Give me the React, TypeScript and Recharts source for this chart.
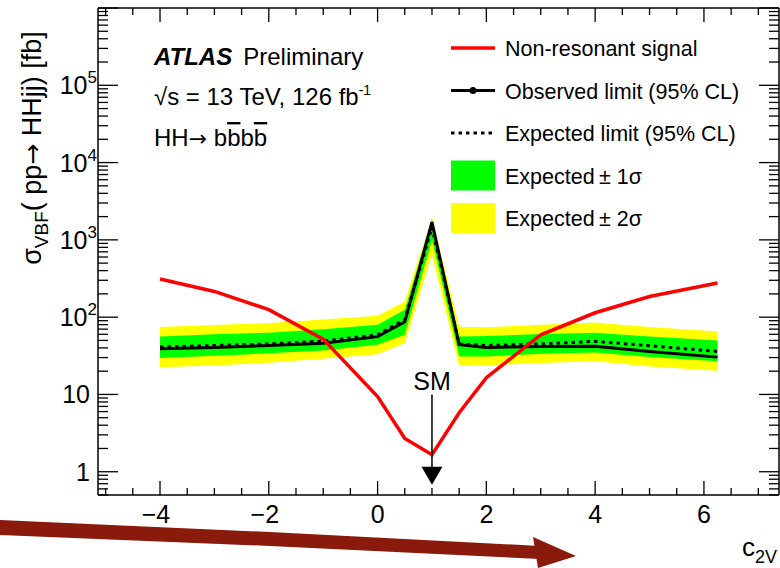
import React from 'react';
import { ComposedChart, Line, Area, XAxis, YAxis, ReferenceLine } from 'recharts';

// ---- data ----
const c2V = [-4, -3, -2, -1, 0, 0.5, 1, 1.5, 2, 3, 4, 5, 6.25];
const signal = [311, 215, 125, 52, 9.4, 2.7, 1.66, 5.8, 16.5, 59, 114, 185, 277];
const observed = [39, 40.6, 43, 46, 56, 87, 1700, 44, 40.5, 41.7, 42, 36, 30.4];
const expected = [41, 43, 45, 49, 59, 93, 1450, 45, 43, 45, 48.6, 42.7, 36];
const oneSigmaLow = [29.6, 31.7, 34, 37, 44, 59, 1000, 31, 31, 33.6, 35, 30.5, 26.8];
const oneSigmaHigh = [56, 60, 63, 70, 80, 125, 1800, 56, 57, 60.5, 63, 56, 50];
const twoSigmaLow = [22.4, 23.7, 25.7, 29, 33, 46, 650, 23.5, 23.8, 25.5, 26.8, 23, 20.3];
const twoSigmaHigh = [74.5, 79, 84, 93, 104, 160, 1950, 75, 74, 80, 85, 74.5, 65];

const xDomain = [-5.14, 7.38];
const yDomain = [0.5, 1e6];
const xTicks = [-5, -4.5, -4, -3.5, -3, -2.5, -2, -1.5, -1, -0.5, 0, 0.5, 1, 1.5, 2, 2.5, 3, 3.5, 4, 4.5, 5, 5.5, 6, 6.5, 7];
const xTickLabels = [-4, -2, 0, 2, 4, 6];
const yDecades = [1, 10, 100, 1000, 10000, 100000, 1000000];
const yMultipliers = [1, 2, 3, 4, 5, 6, 7, 8, 9];
const yMinorBelowOne = [0.5, 0.6, 0.7, 0.8, 0.9];
const yTicks = [
  ...yMinorBelowOne,
  ...yDecades.flatMap((d) => (d === 1000000 ? [d] : yMultipliers.map((m) => m * d))),
];
const smPosition = { c2V: 1, top: 10, tip: 0.68, label: 'SM' };

const legendItems = [
  { kind: 'red', label: 'Non-resonant signal' },
  { kind: 'obs', label: 'Observed limit (95% CL)' },
  { kind: 'exp', label: 'Expected limit (95% CL)' },
  { kind: 'green', label: 'Expected\u2009\u00b1 1\u03c3' },
  { kind: 'yellow', label: 'Expected\u2009\u00b1 2\u03c3' },
];

const data = c2V.map((c, i) => ({
  c,
  sig: signal[i],
  obs: observed[i],
  exp: expected[i],
  band1: [oneSigmaLow[i], oneSigmaHigh[i]],
  band2: [twoSigmaLow[i], twoSigmaHigh[i]],
}));

const FONT = '"Liberation Sans", Arial, Helvetica, sans-serif';
const ARROW_FONT = '"DejaVu Sans", sans-serif';

const isDecade = (v: number) => Math.abs(Math.log10(v) - Math.round(Math.log10(v))) < 1e-6;
const isXMajor = (v: number) => Math.abs(v / 2 - Math.round(v / 2)) < 1e-6;

const LeftTick = (props: any) => {
  const { x, y, payload } = props;
  const v = payload.value;
  const ax = x + 10;
  const major = isDecade(v);
  const e = Math.round(Math.log10(v));
  let label: React.ReactNode = null;
  if (major && e === 0) label = <text x={ax - 8} y={y + 9} textAnchor="end" fontSize={25} fontFamily={FONT} fill="#000">1</text>;
  else if (major && e === 1) label = <text x={ax - 8} y={y + 9} textAnchor="end" fontSize={25} fontFamily={FONT} fill="#000">10</text>;
  else if (major && e >= 2 && e <= 5)
    label = (
      <text x={ax - 1} y={y + 9} textAnchor="end" fontSize={25} fontFamily={FONT} fill="#000">
        10<tspan fontSize={17} dy={-11}>{e}</tspan>
      </text>
    );
  return (
    <g>
      <line x1={ax} x2={ax + (major ? 20 : 10)} y1={y} y2={y} stroke="#000" strokeWidth={1.3} />
      {label}
    </g>
  );
};

const RightTick = (props: any) => {
  const { x, y, payload } = props;
  const major = isDecade(payload.value);
  return <line x1={x - (major ? 20 : 10)} x2={x} y1={y} y2={y} stroke="#000" strokeWidth={1.3} />;
};

const BottomTick = (props: any) => {
  const { x, y, payload } = props;
  const v = payload.value;
  const ay = y;
  const major = isXMajor(v);
  const showLabel = xTickLabels.includes(v);
  const text = v < 0 ? '\u2212' + Math.abs(v) : String(v);
  return (
    <g>
      <line x1={x} x2={x} y1={ay} y2={ay - (major ? 14 : 7)} stroke="#000" strokeWidth={1.3} />
      {showLabel && (
        <text x={x + (v < 0 ? -4 : 0)} y={ay + 28} textAnchor="middle" fontSize={25} fontFamily={FONT} fill="#000">
          {text}
        </text>
      )}
    </g>
  );
};

const TopTick = (props: any) => {
  const { x, y, payload } = props;
  const major = isXMajor(payload.value);
  return <line x1={x} x2={x} y1={y} y2={y + (major ? 14 : 7)} stroke="#000" strokeWidth={1.3} />;
};

const SMArrow = (props: any) => {
  const { x1, y1, x2, y2 } = props;
  return (
    <g>
      <text x={x1} y={y1 - 4} textAnchor="middle" fontSize={25} fontFamily={FONT} fill="#000">
        {smPosition.label}
      </text>
      <line x1={x1} y1={y1} x2={x2} y2={y2 - 16} stroke="#000" strokeWidth={1.5} />
      <polygon points={`${x2 - 10.5},${y2 - 18} ${x2 + 10.5},${y2 - 18} ${x2},${y2}`} fill="#000" />
    </g>
  );
};

const Legend = () => {
  const x0 = 451;
  const x1 = 495;
  const tx = 505;
  const rowY = (i: number) => 48 + i * 42.5;
  return (
    <g fontFamily={FONT}>
      {legendItems.map((it, i) => {
        const cy = rowY(i);
        let sym: React.ReactNode = null;
        if (it.kind === 'red') sym = <line x1={x0} x2={x1} y1={cy} y2={cy} stroke="#ff0000" strokeWidth={3.5} />;
        if (it.kind === 'obs')
          sym = (
            <g>
              <line x1={x0} x2={x1} y1={cy} y2={cy} stroke="#000" strokeWidth={3} />
              <circle cx={(x0 + x1) / 2} cy={cy} r={3.5} fill="#000" />
            </g>
          );
        if (it.kind === 'exp')
          sym = <line x1={x0} x2={x1} y1={cy} y2={cy} stroke="#000" strokeWidth={3} strokeDasharray="3.5 4" />;
        if (it.kind === 'green') sym = <rect x={x0} y={cy - 15} width={x1 - x0} height={30} fill="#00ff00" />;
        if (it.kind === 'yellow') sym = <rect x={x0} y={cy - 15} width={x1 - x0} height={30} fill="#ffff00" />;
        return (
          <g key={it.label}>
            {sym}
            <text x={tx} y={cy + 8} fontSize={21.5} fill="#000">
              {it.label}
            </text>
          </g>
        );
      })}
    </g>
  );
};

export default function App() {
  return (
    <div style={{ position: 'absolute', left: 0, top: 0, width: 780, height: 568, background: '#fff' }}>
      <ComposedChart
        width={780}
        height={568}
        data={data}
        margin={{ top: 0, right: 0, bottom: 0, left: 0 }}
      >
        <XAxis
          xAxisId="bottom"
          dataKey="c"
          type="number"
          domain={xDomain}
          allowDataOverflow
          ticks={xTicks}
          interval={0}
          height={73}
          tickSize={0}
          tickMargin={0}
          tickLine={false}
          tick={<BottomTick />}
          axisLine={{ stroke: '#000', strokeWidth: 1.5 }}
        />
        <XAxis
          xAxisId="top"
          orientation="top"
          dataKey="c"
          type="number"
          domain={xDomain}
          allowDataOverflow
          ticks={xTicks}
          interval={0}
          height={8}
          tickSize={0}
          tickMargin={0}
          tickLine={false}
          tick={<TopTick />}
          axisLine={{ stroke: '#000', strokeWidth: 1.5 }}
        />
        <YAxis
          yAxisId="left"
          scale="log"
          type="number"
          domain={yDomain}
          allowDataOverflow
          ticks={yTicks}
          interval={0}
          width={98}
          tickSize={0}
          tickMargin={10}
          tickLine={false}
          tick={<LeftTick />}
          axisLine={{ stroke: '#000', strokeWidth: 1.5 }}
        />
        <YAxis
          yAxisId="right"
          orientation="right"
          scale="log"
          type="number"
          domain={yDomain}
          allowDataOverflow
          ticks={yTicks}
          interval={0}
          width={1}
          tickSize={0}
          tickMargin={0}
          tickLine={false}
          tick={<RightTick />}
          axisLine={{ stroke: '#000', strokeWidth: 1.5 }}
        />
        <Area
          xAxisId="bottom"
          yAxisId="left"
          type="linear"
          dataKey="band2"
          fill="#ffff00"
          fillOpacity={1}
          stroke="none"
          isAnimationActive={false}
          dot={false}
          activeDot={false}
        />
        <Area
          xAxisId="bottom"
          yAxisId="left"
          type="linear"
          dataKey="band1"
          fill="#00ff00"
          fillOpacity={1}
          stroke="none"
          isAnimationActive={false}
          dot={false}
          activeDot={false}
        />
        <Line
          xAxisId="bottom"
          yAxisId="left"
          type="linear"
          dataKey="exp"
          stroke="#000"
          strokeWidth={3}
          strokeDasharray="3.5 4"
          dot={false}
          activeDot={false}
          isAnimationActive={false}
        />
        <Line
          xAxisId="bottom"
          yAxisId="left"
          type="linear"
          dataKey="obs"
          stroke="#000"
          strokeWidth={3}
          dot={false}
          activeDot={false}
          isAnimationActive={false}
        />
        <Line
          xAxisId="top"
          yAxisId="right"
          type="linear"
          dataKey="sig"
          stroke="#ff0000"
          strokeWidth={3.5}
          dot={false}
          activeDot={false}
          isAnimationActive={false}
        />
        <ReferenceLine
          xAxisId="bottom"
          yAxisId="left"
          segment={[
            { x: smPosition.c2V, y: smPosition.top },
            { x: smPosition.c2V, y: smPosition.tip },
          ]}
          shape={<SMArrow />}
        />
      </ComposedChart>
      <svg width={780} height={568} style={{ position: 'absolute', left: 0, top: 0, pointerEvents: 'none' }}>
        <g fontFamily={FONT} fill="#000">
          <text x={154} y={65} fontSize={24}>
            <tspan fontWeight="bold" fontStyle="italic">ATLAS</tspan>
            <tspan dx={11}>Preliminary</tspan>
          </text>
          <text x={154} y={105} fontSize={24}>
            {'\u221as = 13 TeV, 126 fb'}
            <tspan fontSize={14} dy={-10}>-1</tspan>
          </text>
          <text x={154} y={146} fontSize={24}>
            {'HH'}
            <tspan fontFamily={ARROW_FONT} fontSize={22}>{'\u2192'}</tspan>
            {' b'}
            <tspan style={{ textDecoration: 'overline' }}>b</tspan>
            <tspan>b</tspan>
            <tspan style={{ textDecoration: 'overline' }}>b</tspan>
          </text>
          <text transform="translate(41,148) rotate(-90)" textAnchor="middle" fontSize={27}>
            {'\u03c3'}
            <tspan fontSize={19} dy={7}>VBF</tspan>
            <tspan dy={-7}>{'( pp'}</tspan>
            <tspan fontFamily={ARROW_FONT} fontSize={25}>{'\u2192'}</tspan>
            <tspan>{' HHjj) [fb]'}</tspan>
          </text>
          <text x={742} y={556} fontSize={26}>
            c<tspan fontSize={18} dy={7}>2V</tspan>
          </text>
        </g>
        <Legend />
        <polygon
          points="0,520 270,532 540,546 540,559 270,546 0,535"
          fill="#8a1a0c"
        />
        <polygon points="533,537 576,556 538,568" fill="#8a1a0c" />
      </svg>
    </div>
  );
}
